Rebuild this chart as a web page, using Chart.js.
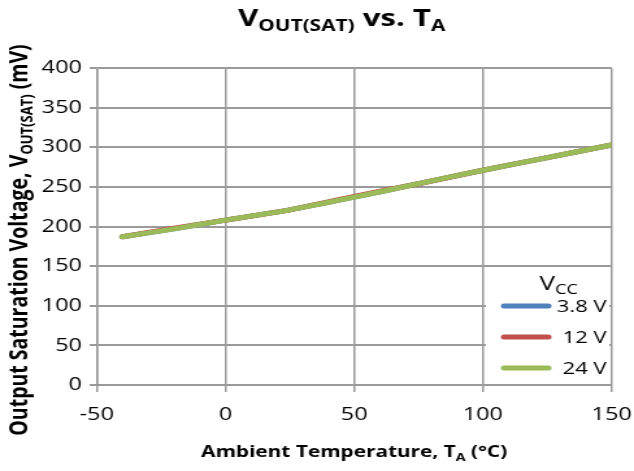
<!DOCTYPE html>
<html lang="en">
<head>
    <meta charset="UTF-8">
    <title>VOUT(SAT) vs. TA</title>
    <style>
        body { margin: 0; background: #fff; }
        #chart { display: block; }
    </style>
    <script src="https://cdn.jsdelivr.net/npm/chart.js"></script>
</head>
<body>
    <!-- the reference is stretched sideways, so the canvas is too (inline style so Chart.js keeps it) -->
    <canvas id="chart" width="488" height="471" style="width: 634px; height: 471px;"></canvas>

    <script>
        // Data
        var temps = [-40, -20, 0, 25, 50, 75, 100, 125, 150];
        var vcc38 = [187, 197, 208, 221, 237, 254, 271, 287, 303];
        var vcc12 = [187, 198, 208, 221, 238, 254, 271, 287, 303];
        var vcc24 = [187, 197, 208, 221, 237, 254, 271, 287, 303];
        var seriesLabels = ['3.8 V', '12 V', '24 V'];
        var xTicks = [-50, 0, 50, 100, 150];
        var yTicks = [0, 50, 100, 150, 200, 250, 300, 350, 400];

        var FONT = '"Open Sans", sans-serif';
        var GRID = '#9a9a9a';

        function pts(ys) {
            return temps.map(function (t, i) { return { x: t, y: ys[i] }; });
        }

        // text with subscript parts, e.g. [{t:'V'},{t:'OUT',sub:true}]
        function richWidth(ctx, parts, size, weight) {
            var w = 0;
            parts.forEach(function (p) {
                ctx.font = weight + ' ' + (p.sub ? Math.round(size * 0.68) : size) + 'px ' + FONT;
                w += ctx.measureText(p.t).width;
            });
            return w;
        }
        function drawRich(ctx, parts, x, y, size, weight, align) {
            var w = richWidth(ctx, parts, size, weight);
            var cx = align === 'center' ? x - w / 2 : (align === 'right' ? x - w : x);
            ctx.textAlign = 'left';
            ctx.textBaseline = 'alphabetic';
            parts.forEach(function (p) {
                var s = p.sub ? Math.round(size * 0.68) : size;
                ctx.font = weight + ' ' + s + 'px ' + FONT;
                ctx.fillText(p.t, cx, y + (p.sub ? size * 0.22 : 0));
                cx += ctx.measureText(p.t).width;
            });
        }

        // Titles and the in-plot legend, drawn by hand for the subscripts
        var annotations = {
            id: 'annotations',
            afterDraw: function (chart) {
                var ctx = chart.ctx;
                var area = chart.chartArea;
                ctx.save();
                ctx.fillStyle = '#000';

                drawRich(ctx, [{ t: 'V' }, { t: 'OUT(SAT)', sub: true }, { t: ' vs. T' }, { t: 'A', sub: true }],
                    263, 26, 24, 'bold', 'center');

                drawRich(ctx, [{ t: 'Ambient Temperature, T' }, { t: 'A', sub: true }, { t: ' (°C)' }],
                    (area.left + area.right) / 2, 457, 16, 'bold', 'center');

                ctx.save();
                ctx.translate(21, 240);
                ctx.rotate(-Math.PI / 2);
                drawRich(ctx, [{ t: 'Output Saturation Voltage, V' }, { t: 'OUT(SAT)', sub: true }, { t: ' (mV)' }],
                    0, 0, 19.5, 'bold', 'center');
                ctx.restore();

                // legend box
                var lx = 374, ly = 268, lw = 95, lh = 115;
                ctx.fillStyle = '#fff';
                ctx.fillRect(lx, ly, lw, lh);
                ctx.fillStyle = '#000';
                drawRich(ctx, [{ t: 'V' }, { t: 'CC', sub: true }], 430, 290, 20, 'normal', 'center');

                var rows = [306, 337, 368];
                chart.data.datasets.forEach(function (ds, i) {
                    ctx.strokeStyle = ds.borderColor;
                    ctx.lineWidth = 5;
                    ctx.lineCap = 'round';
                    ctx.beginPath();
                    ctx.moveTo(388, rows[i]);
                    ctx.lineTo(422, rows[i]);
                    ctx.stroke();
                    ctx.fillStyle = '#000';
                    ctx.font = '17px ' + FONT;
                    ctx.textAlign = 'right';
                    ctx.textBaseline = 'middle';
                    ctx.fillText(ds.label, 467, rows[i] + 1);
                });
                ctx.restore();
            }
        };

        var config = {
            type: 'line',
            data: {
                datasets: [
                    { label: seriesLabels[0], data: pts(vcc38), borderColor: '#4f81bd', order: 3 },
                    { label: seriesLabels[1], data: pts(vcc12), borderColor: '#c0504d', order: 2 },
                    { label: seriesLabels[2], data: pts(vcc24), borderColor: '#9bbb59', order: 1 }
                ]
            },
            options: {
                responsive: false,
                animation: false,
                devicePixelRatio: 1,
                layout: { padding: { top: 68, right: 17.2, left: 0, bottom: 0 } },
                elements: {
                    line: { borderWidth: 5, borderCapStyle: 'round', tension: 0.2, fill: false },
                    point: { radius: 0 }
                },
                plugins: {
                    legend: { display: false },
                    title: { display: false },
                    tooltip: { enabled: false }
                },
                scales: {
                    x: {
                        type: 'linear',
                        min: -50, max: 150,
                        afterBuildTicks: function (s) { s.ticks = xTicks.map(function (v) { return { value: v }; }); },
                        afterFit: function (s) { s.height = 86; s.paddingLeft = 0; s.paddingRight = 0; },
                        grid: { color: GRID, lineWidth: 1.5, tickLength: 7 },
                        border: { color: GRID, width: 2 },
                        ticks: { color: '#000', font: { family: FONT, size: 18 }, padding: 12, maxRotation: 0 }
                    },
                    y: {
                        min: 0, max: 400,
                        afterBuildTicks: function (s) { s.ticks = yTicks.map(function (v) { return { value: v }; }); },
                        afterFit: function (s) { s.width = 74.5; },
                        grid: { color: GRID, lineWidth: 2, tickLength: 5.5 },
                        border: { color: GRID, width: 1.5 },
                        ticks: { color: '#000', font: { family: FONT, size: 18 }, padding: 6 }
                    }
                }
            },
            plugins: [annotations]
        };

        new Chart(document.getElementById('chart').getContext('2d'), config);
    </script>
</body>
</html>
